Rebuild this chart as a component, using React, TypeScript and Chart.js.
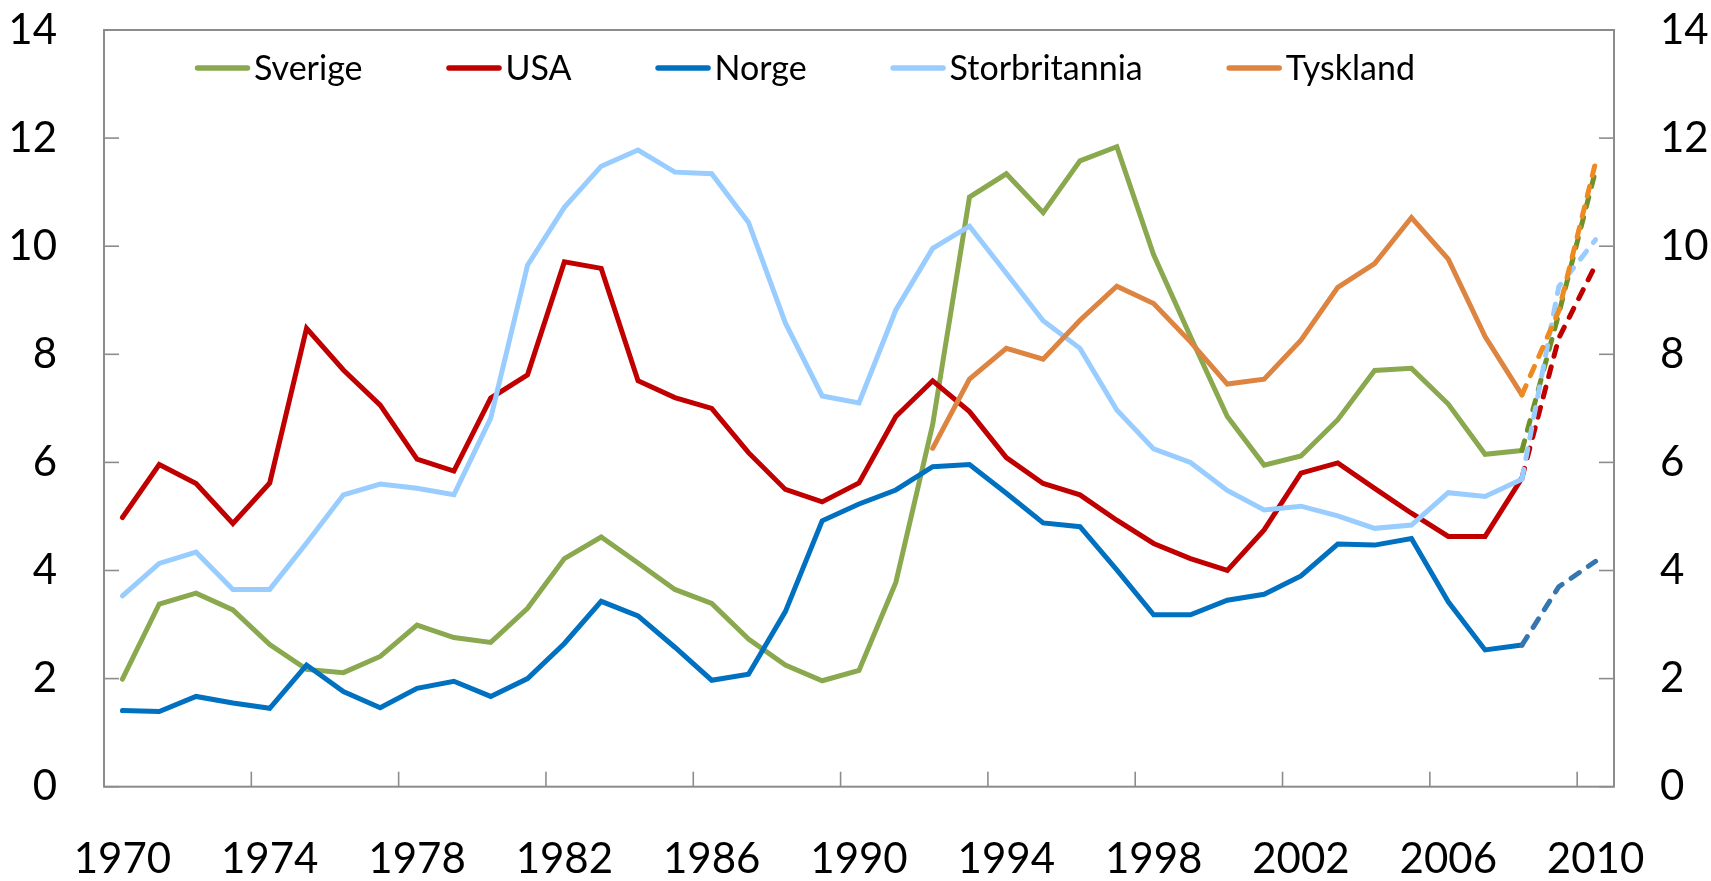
import React, { useEffect, useRef } from 'react';
import { Chart, registerables } from 'chart.js';

Chart.register(...registerables);

// ---------- data ----------
const years = [
  '1970', '1971', '1972', '1973', '1974', '1975', '1976', '1977', '1978', '1979',
  '1980', '1981', '1982', '1983', '1984', '1985', '1986', '1987', '1988', '1989',
  '1990', '1991', '1992', '1993', '1994', '1995', '1996', '1997', '1998', '1999',
  '2000', '2001', '2002', '2003', '2004', '2005', '2006', '2007', '2008', '2009',
  '2010',
];

const xTickLabels = ['1970', '1974', '1978', '1982', '1986', '1990', '1994', '1998', '2002', '2006', '2010'];
const yTickValues = [0, 2, 4, 6, 8, 10, 12, 14];

// first year of forecast segment (dashed from here on)
const forecastFrom = '2008';

const sverige = [
  1.99, 3.38, 3.58, 3.27, 2.63, 2.17, 2.11, 2.41, 2.99, 2.76,
  2.67, 3.30, 4.22, 4.62, 4.14, 3.65, 3.39, 2.73, 2.25, 1.96,
  2.15, 3.78, 6.70, 10.91, 11.34, 10.62, 11.58, 11.84, 9.84, 8.33,
  6.85, 5.95, 6.12, 6.79, 7.70, 7.74, 7.08, 6.15, 6.22, 8.75,
  11.40,
];

const usa = [
  4.98, 5.96, 5.61, 4.87, 5.62, 8.48, 7.71, 7.06, 6.06, 5.84,
  7.19, 7.62, 9.71, 9.59, 7.51, 7.20, 7.00, 6.18, 5.50, 5.27,
  5.62, 6.85, 7.51, 6.94, 6.09, 5.61, 5.40, 4.93, 4.50, 4.22,
  4.00, 4.75, 5.80, 5.99, 5.52, 5.06, 4.63, 4.63, 5.71, 8.30,
  9.65,
];

const norge = [
  1.41, 1.39, 1.67, 1.55, 1.45, 2.25, 1.76, 1.46, 1.82, 1.95,
  1.67, 2.00, 2.65, 3.43, 3.16, 2.58, 1.97, 2.08, 3.24, 4.92,
  5.23, 5.49, 5.92, 5.96, 5.43, 4.88, 4.81, 4.01, 3.18, 3.18,
  3.45, 3.56, 3.90, 4.49, 4.47, 4.59, 3.42, 2.53, 2.62, 3.70,
  4.17,
];

const storbritannia = [
  3.53, 4.13, 4.34, 3.65, 3.65, 4.51, 5.40, 5.60, 5.52, 5.40,
  6.82, 9.65, 10.72, 11.48, 11.78, 11.37, 11.34, 10.44, 8.58, 7.23,
  7.10, 8.82, 9.96, 10.37, 9.50, 8.62, 8.11, 6.97, 6.25, 6.00,
  5.48, 5.12, 5.19, 5.01, 4.78, 4.84, 5.44, 5.37, 5.69, 9.25,
  10.12,
];

const tyskland = [
  null, null, null, null, null, null, null, null, null, null,
  null, null, null, null, null, null, null, null, null, null,
  null, null, 6.26, 7.54, 8.11, 7.91, 8.63, 9.26, 8.94, 8.23,
  7.45, 7.54, 8.26, 9.24, 9.68, 10.53, 9.76, 8.33, 7.25, 8.80,
  11.55,
];

const seriesNames = ['Sverige', 'USA', 'Norge', 'Storbritannia', 'Tyskland'];
const seriesColors = ['#8AA84E', '#C00000', '#0070C0', '#99CCFF', '#DD8440'];
const forecastColors = ['#6E9128', '#C00000', '#3576B0', '#99CCFF', '#EE8A20'];
const seriesData = [sverige, usa, norge, storbritannia, tyskland];

// ---------- style ----------
const FONT = 'Lato, "Open Sans", sans-serif';
const AXIS_COLOR = '#8C8C8C';

const framePlugin = {
  id: 'frame',
  beforeDatasetsDraw(chart: any) {
    const { ctx, chartArea: a, scales } = chart;
    ctx.save();
    ctx.strokeStyle = AXIS_COLOR;
    ctx.lineWidth = 2;
    ctx.strokeRect(a.left, a.top, a.right - a.left, a.bottom - a.top);
    ctx.lineWidth = 1.6;
    const seg = (x1: number, y1: number, x2: number, y2: number) => {
      ctx.beginPath();
      ctx.moveTo(x1, y1);
      ctx.lineTo(x2, y2);
      ctx.stroke();
    };
    const ys = scales.y;
    yTickValues.forEach((v) => {
      const py = ys.getPixelForValue(v);
      seg(a.left, py, a.left + 15, py);
      seg(a.right - 15, py, a.right, py);
    });
    const xs = scales.x;
    const half = (xs.getPixelForValue(1) - xs.getPixelForValue(0)) / 2;
    years.forEach((yr, i) => {
      if (xTickLabels.includes(yr)) {
        const px = xs.getPixelForValue(i) - half;
        seg(px, a.bottom - 15, px, a.bottom);
      }
    });
    ctx.restore();
  },
  afterDatasetsDraw(chart: any) {
    const { ctx, chartArea: a } = chart;
    ctx.save();
    ctx.font = `34px ${FONT}`;
    ctx.textBaseline = 'middle';
    ctx.textAlign = 'left';
    let x = a.left + 91;
    const y = a.top + 38;
    chart.data.datasets.forEach((ds: any) => {
      ctx.strokeStyle = ds.borderColor;
      ctx.lineWidth = 5.5;
      ctx.lineCap = 'round';
      ctx.beginPath();
      ctx.moveTo(x + 2.5, y);
      ctx.lineTo(x + 52.5, y);
      ctx.stroke();
      ctx.fillStyle = '#000';
      ctx.fillText(ds.label, x + 59, y + 1);
      x += 59 + ctx.measureText(ds.label).width + 84;
    });
    ctx.restore();
  },
};

const zeroPad = (s: any) => {
  s.paddingTop = 0;
  s.paddingBottom = 0;
  s.paddingLeft = 0;
  s.paddingRight = 0;
};

export default function App() {
  const ref = useRef<HTMLCanvasElement>(null);

  useEffect(() => {
    const fIdx = years.indexOf(forecastFrom);
    const datasets = seriesNames.map((name, k) => ({
      label: name,
      data: seriesData[k],
      borderColor: seriesColors[k],
      backgroundColor: seriesColors[k],
      borderWidth: 5,
      pointRadius: 0,
      pointHoverRadius: 0,
      tension: 0,
      fill: false,
      borderCapStyle: 'round' as const,
      order: seriesNames.length - k,
      segment: {
        borderColor: (c: any) => (c.p0DataIndex >= fIdx ? forecastColors[k] : undefined),
        borderDash: (c: any) => (c.p0DataIndex >= fIdx ? [10, 11] : undefined),
      },
    }));

    const chart = new Chart(ref.current as HTMLCanvasElement, {
      type: 'line',
      data: { labels: years, datasets },
      plugins: [framePlugin],
      options: {
        responsive: false,
        animation: false,
        devicePixelRatio: 1,
        layout: { padding: { top: 30, left: 0, right: 0, bottom: 0 } },
        plugins: {
          legend: { display: false },
          tooltip: { enabled: false },
        },
        scales: {
          x: {
            type: 'category',
            offset: true,
            grid: { display: false, drawTicks: false },
            border: { display: false },
            ticks: {
              autoSkip: false,
              maxRotation: 0,
              minRotation: 0,
              padding: 48,
              color: '#000',
              font: { family: FONT, size: 42 },
              callback: (_v: any, i: number) => (xTickLabels.includes(years[i]) ? years[i] : ''),
            },
            afterFit: (s: any) => {
              s.height = 94.3;
              zeroPad(s);
            },
          },
          y: {
            position: 'left',
            min: 0,
            max: 14,
            grid: { display: false, drawTicks: false },
            border: { display: false },
            ticks: {
              stepSize: 2,
              padding: 47,
              color: '#000',
              font: { family: FONT, size: 42 },
            },
            afterFit: (s: any) => {
              s.width = 104;
              zeroPad(s);
            },
          },
          y2: {
            position: 'right',
            min: 0,
            max: 14,
            grid: { display: false, drawTicks: false },
            border: { display: false },
            ticks: {
              stepSize: 2,
              padding: 46,
              color: '#000',
              font: { family: FONT, size: 42 },
            },
            afterFit: (s: any) => {
              s.width = 97;
              zeroPad(s);
            },
          },
        },
      },
    });
    return () => chart.destroy();
  }, []);

  return (
    <div style={{ position: 'fixed', left: 0, top: 0, width: 1711, height: 881, background: '#fff' }}>
      <canvas ref={ref} width={1711} height={881} style={{ display: 'block' }} />
    </div>
  );
}
